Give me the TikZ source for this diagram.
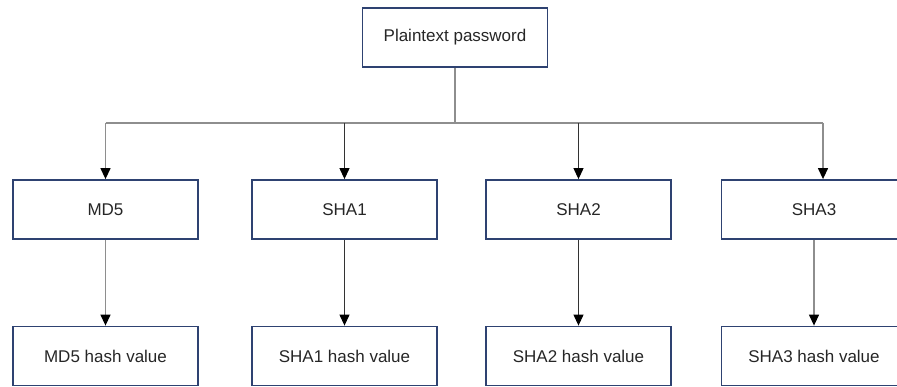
\documentclass[tikz,border=0pt]{standalone}
\usepackage{fontspec}
\setmainfont{Liberation Sans}
\usetikzlibrary{arrows.meta}

\definecolor{boxblue}{HTML}{2E4271}
\definecolor{linkgray}{HTML}{8E8E8E}
\tikzset{
	hashbox/.style = {draw = boxblue, line width = 1.8pt, minimum width = 185pt, minimum height = 59pt, inner sep = 0pt, font = \fontsize{17}{20}\selectfont, text = black!85},
	link/.style = {draw = linkgray, line width = 1.3pt},
	darklink/.style = {draw = black!80, line width = 1.1pt},
	arrowed/.style = {-{Triangle[length = 11pt, width = 10pt, color = black]}}
}

\begin{document}
\begin{tikzpicture}[x = 1pt, y = -1pt]
	\useasboundingbox (0,0) rectangle (897,387);
	\node [hashbox] (pw) at (455,37.5) {Plaintext password};
	\node [hashbox] (md5) at (105.5,209.5) {MD5};
	\node [hashbox] (sha1) at (344.5,209.5) {SHA1};
	\node [hashbox] (sha2) at (578.5,209.5) {SHA2};
	\node [hashbox] (sha3) at (814,209.5) {SHA3};
	\node [hashbox] (md5v) at (105.5,356) {MD5 hash value};
	\node [hashbox] (sha1v) at (344.5,356) {SHA1 hash value};
	\node [hashbox] (sha2v) at (578.5,356) {SHA2 hash value};
	\node [hashbox] (sha3v) at (814,356) {SHA3 hash value};
	\coordinate (hub) at (455,123);
	\coordinate (sha3in) at ([xshift = 9pt]sha3.north);
	% tree from the password
	\draw [link] (pw) -- (hub);
	\draw [link] (md5 |- hub) -- (sha3in |- hub);
	\draw [link, arrowed] (md5 |- hub) -- (md5);
	\draw [darklink, arrowed] (sha1 |- hub) -- (sha1);
	\draw [darklink, arrowed] (sha2 |- hub) -- (sha2);
	\draw [link, arrowed] (sha3in |- hub) -- (sha3in);
	% hash values
	\draw [link, arrowed] (md5) -- (md5v);
	\draw [darklink, arrowed] (sha1) -- (sha1v);
	\draw [darklink, arrowed] (sha2) -- (sha2v);
	\draw [link, arrowed] (sha3) -- (sha3v);
\end{tikzpicture}
\end{document}
